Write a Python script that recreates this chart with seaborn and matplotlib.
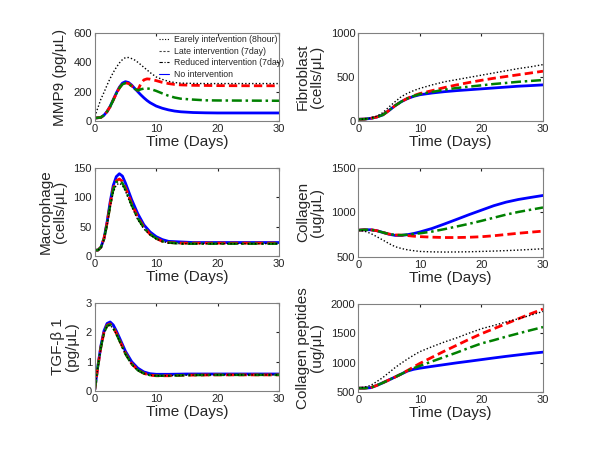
import numpy as np
import matplotlib
matplotlib.use("Agg")
import matplotlib.pyplot as plt
from matplotlib.lines import Line2D
import seaborn as sns

# time grids (days) for each panel
t_mmp = [0, 1, 1.5, 2, 2.5, 3, 3.5, 4, 4.5, 5, 5.5, 6, 6.5, 7, 7.5, 8, 8.5, 9, 10, 11, 12, 13, 14, 16, 18, 20, 25, 30]
mmp_blue = [20, 25, 40, 65, 100, 145, 190, 230, 258, 268, 262, 245, 222, 200, 178, 158, 140, 125, 102, 87, 76, 68, 63, 58, 56, 55, 55, 55]
mmp_red = [20, 25, 40, 64, 98, 142, 186, 225, 252, 260, 255, 240, 220, 208, 255, 280, 287, 285, 275, 263, 255, 249, 246, 243, 242, 241, 240, 240]
mmp_green = [20, 25, 40, 64, 98, 142, 186, 224, 250, 258, 253, 238, 219, 208, 216, 221, 222, 219, 205, 188, 172, 160, 152, 146, 141, 140, 139, 138]
mmp_black = [30, 150, 195, 245, 290, 330, 365, 395, 418, 432, 432, 425, 415, 400, 383, 365, 348, 330, 300, 283, 270, 262, 258, 256, 255, 255, 255, 255]

t_fib = [0, 1, 2, 3, 4, 5, 6, 7, 8, 9, 10, 12, 14, 16, 18, 20, 22, 24, 26, 28, 30]
fib_blue = [20, 22, 30, 45, 70, 120, 175, 220, 255, 280, 298, 318, 333, 345, 355, 365, 375, 385, 395, 402, 410]
fib_red = [20, 22, 30, 45, 70, 120, 175, 220, 258, 288, 312, 345, 380, 410, 437, 462, 485, 505, 525, 545, 565]
fib_green = [20, 22, 30, 45, 70, 120, 175, 220, 256, 284, 305, 330, 355, 375, 390, 405, 420, 432, 445, 455, 465]
fib_black = [20, 23, 35, 55, 95, 160, 220, 277, 315, 345, 370, 410, 445, 470, 495, 520, 545, 570, 595, 615, 640]

t_mac = [0, 0.5, 1, 1.5, 2, 2.5, 3, 3.5, 4, 4.5, 5, 5.5, 6, 7, 8, 9, 10, 11, 12, 14, 16, 20, 25, 30]
mac_blue = [10, 10, 15, 30, 58, 92, 120, 135, 140, 136, 124, 110, 96, 72, 53, 41, 33, 28, 25, 24, 23, 23, 23, 23]
mac_red = [10, 10, 15, 30, 56, 88, 115, 128, 131, 127, 116, 103, 89, 66, 49, 37, 30, 25, 23, 22, 22, 22, 22, 22]
mac_green = [10, 10, 15, 29, 55, 86, 113, 126, 128, 124, 113, 100, 87, 64, 48, 37, 30, 25, 23, 21, 21, 21, 21, 21]
mac_black = [10, 10, 14, 28, 53, 83, 108, 121, 124, 120, 110, 97, 84, 62, 46, 36, 29, 25, 22, 21, 21, 21, 21, 21]

t_col = [0, 1, 2, 3, 4, 5, 6, 7, 8, 9, 10, 12, 14, 16, 18, 20, 22, 24, 26, 28, 30]
col_blue = [800, 805, 805, 795, 775, 755, 742, 742, 750, 763, 780, 820, 870, 922, 975, 1025, 1075, 1115, 1145, 1168, 1190]
col_green = [800, 805, 805, 795, 775, 757, 747, 745, 750, 758, 765, 785, 812, 842, 872, 905, 940, 975, 1005, 1030, 1055]
col_red = [800, 805, 805, 795, 775, 757, 747, 745, 740, 733, 728, 722, 718, 718, 721, 727, 738, 752, 766, 778, 790]
col_black = [800, 790, 765, 728, 690, 650, 615, 595, 580, 570, 562, 557, 555, 556, 558, 562, 566, 571, 577, 584, 592]

t_tgf = [0, 0.5, 1, 1.5, 2, 2.5, 3, 3.5, 4, 5, 6, 7, 8, 9, 10, 12, 15, 20, 25, 30]
tgf_blue = [0.05, 0.85, 1.55, 2.05, 2.3, 2.35, 2.25, 2.05, 1.82, 1.35, 1.0, 0.78, 0.65, 0.59, 0.57, 0.57, 0.58, 0.58, 0.58, 0.58]
tgf_red = [0.05, 0.83, 1.5, 2.0, 2.24, 2.28, 2.17, 1.97, 1.74, 1.28, 0.93, 0.72, 0.6, 0.54, 0.52, 0.52, 0.54, 0.55, 0.55, 0.55]
tgf_green = [0.05, 0.83, 1.5, 1.98, 2.22, 2.26, 2.15, 1.95, 1.72, 1.26, 0.92, 0.71, 0.6, 0.54, 0.52, 0.52, 0.54, 0.55, 0.55, 0.55]
tgf_black = [0.05, 0.82, 1.48, 1.96, 2.2, 2.24, 2.13, 1.93, 1.7, 1.25, 0.91, 0.7, 0.59, 0.54, 0.52, 0.52, 0.54, 0.55, 0.55, 0.55]

t_pep = [0, 1, 2, 3, 4, 5, 6, 7, 8, 9, 10, 12, 14, 16, 18, 20, 22, 24, 26, 28, 30]
pep_blue = [565, 565, 572, 610, 656, 705, 754, 805, 855, 885, 904, 935, 965, 995, 1022, 1050, 1078, 1105, 1130, 1155, 1177]
pep_red = [565, 565, 572, 610, 656, 705, 754, 805, 865, 925, 985, 1090, 1195, 1295, 1395, 1490, 1575, 1660, 1745, 1830, 1910]
pep_green = [565, 565, 572, 610, 656, 705, 754, 805, 860, 905, 943, 1020, 1095, 1170, 1250, 1325, 1380, 1440, 1495, 1550, 1603]
pep_black = [568, 580, 610, 675, 745, 830, 915, 990, 1060, 1125, 1185, 1270, 1350, 1420, 1500, 1575, 1630, 1690, 1745, 1805, 1869]

legend_labels = ["Earely intervention (8hour)", "Late intervention (7day)",
                 "Reduced intervention (7day)", "No intervention"]

sns.set_style("white")
plt.rcParams['font.family'] = ['Liberation Sans', 'DejaVu Sans']

fig = plt.figure(figsize=(6, 4.5), dpi=100)

panels = [
    # (rect, t, blue, red, green, black, ylim, yticks, ylabel)
    ([0.158, 0.731, 0.307, 0.196], t_mmp, mmp_blue, mmp_red, mmp_green, mmp_black,
     (0, 600), [0, 200, 400, 600], "MMP9 (pg/\u03bcL)"),
    ([0.597, 0.731, 0.308, 0.196], t_fib, fib_blue, fib_red, fib_green, fib_black,
     (0, 1000), [0, 500, 1000], "Fibroblast\n(cells/\u03bcL)"),
    ([0.158, 0.431, 0.307, 0.196], t_mac, mac_blue, mac_red, mac_green, mac_black,
     (0, 150), [0, 50, 100, 150], "Macrophage\n(cells/\u03bcL)"),
    ([0.597, 0.429, 0.308, 0.198], t_col, col_blue, col_red, col_green, col_black,
     (500, 1500), [500, 1000, 1500], "Collagen\n(ug/\u03bcL)"),
    ([0.158, 0.131, 0.307, 0.196], t_tgf, tgf_blue, tgf_red, tgf_green, tgf_black,
     (0, 3), [0, 1, 2, 3], "TGF-\u03b2 1\n(pg/\u03bcL)"),
    ([0.597, 0.129, 0.308, 0.196], t_pep, pep_blue, pep_red, pep_green, pep_black,
     (500, 2000), [500, 1000, 1500, 2000], "Collagen peptides\n(ug/\u03bcL)"),
]

for rect, t, blue, red, green, black, ylim, yticks, ylabel in panels:
    ax = fig.add_axes(rect)
    sns.lineplot(x=t, y=blue, ax=ax, color="#0000ff", linewidth=2.0, linestyle="-")
    sns.lineplot(x=t, y=red, ax=ax, color="#ff0000", linewidth=2.0, linestyle=(0, (3, 1.5)))
    sns.lineplot(x=t, y=green, ax=ax, color="#008000", linewidth=1.8, linestyle=(0, (4, 1.5, 1, 1.5)))
    sns.lineplot(x=t, y=black, ax=ax, color="black", linewidth=1.0, linestyle=(0, (1, 1.5)))
    ax.set_xlim(0, 30)
    ax.set_ylim(*ylim)
    ax.set_xticks([0, 10, 20, 30])
    ax.set_yticks(yticks)
    ax.set_xlabel("Time (Days)", fontsize=11, labelpad=1)
    ax.set_ylabel(ylabel, fontsize=11, labelpad=5, linespacing=1.0)
    ax.tick_params(direction="in", length=2.5, labelsize=8, colors="#222222",
                   top=True, right=True, pad=2)
    for s in ax.spines.values():
        s.set_color("#808080")
        s.set_linewidth(0.8)
    if ylabel.startswith("MMP9"):
        handles = [Line2D([], [], color="black", lw=0.8, linestyle=(0, (1, 1.5))),
                   Line2D([], [], color="#444444", lw=0.8, linestyle=(0, (2, 1.5))),
                   Line2D([], [], color="black", lw=0.8, linestyle=(0, (3, 1.5, 1, 1.5))),
                   Line2D([], [], color="#0000ff", lw=0.8)]
        fig.legend(handles, legend_labels, loc="upper left", bbox_to_anchor=(0.258, 0.932),
                   frameon=False, fontsize=6.3, handlelength=1.1, handletextpad=0.6,
                   labelspacing=0.3, borderpad=0)

fig.savefig("out.png", dpi=100)
